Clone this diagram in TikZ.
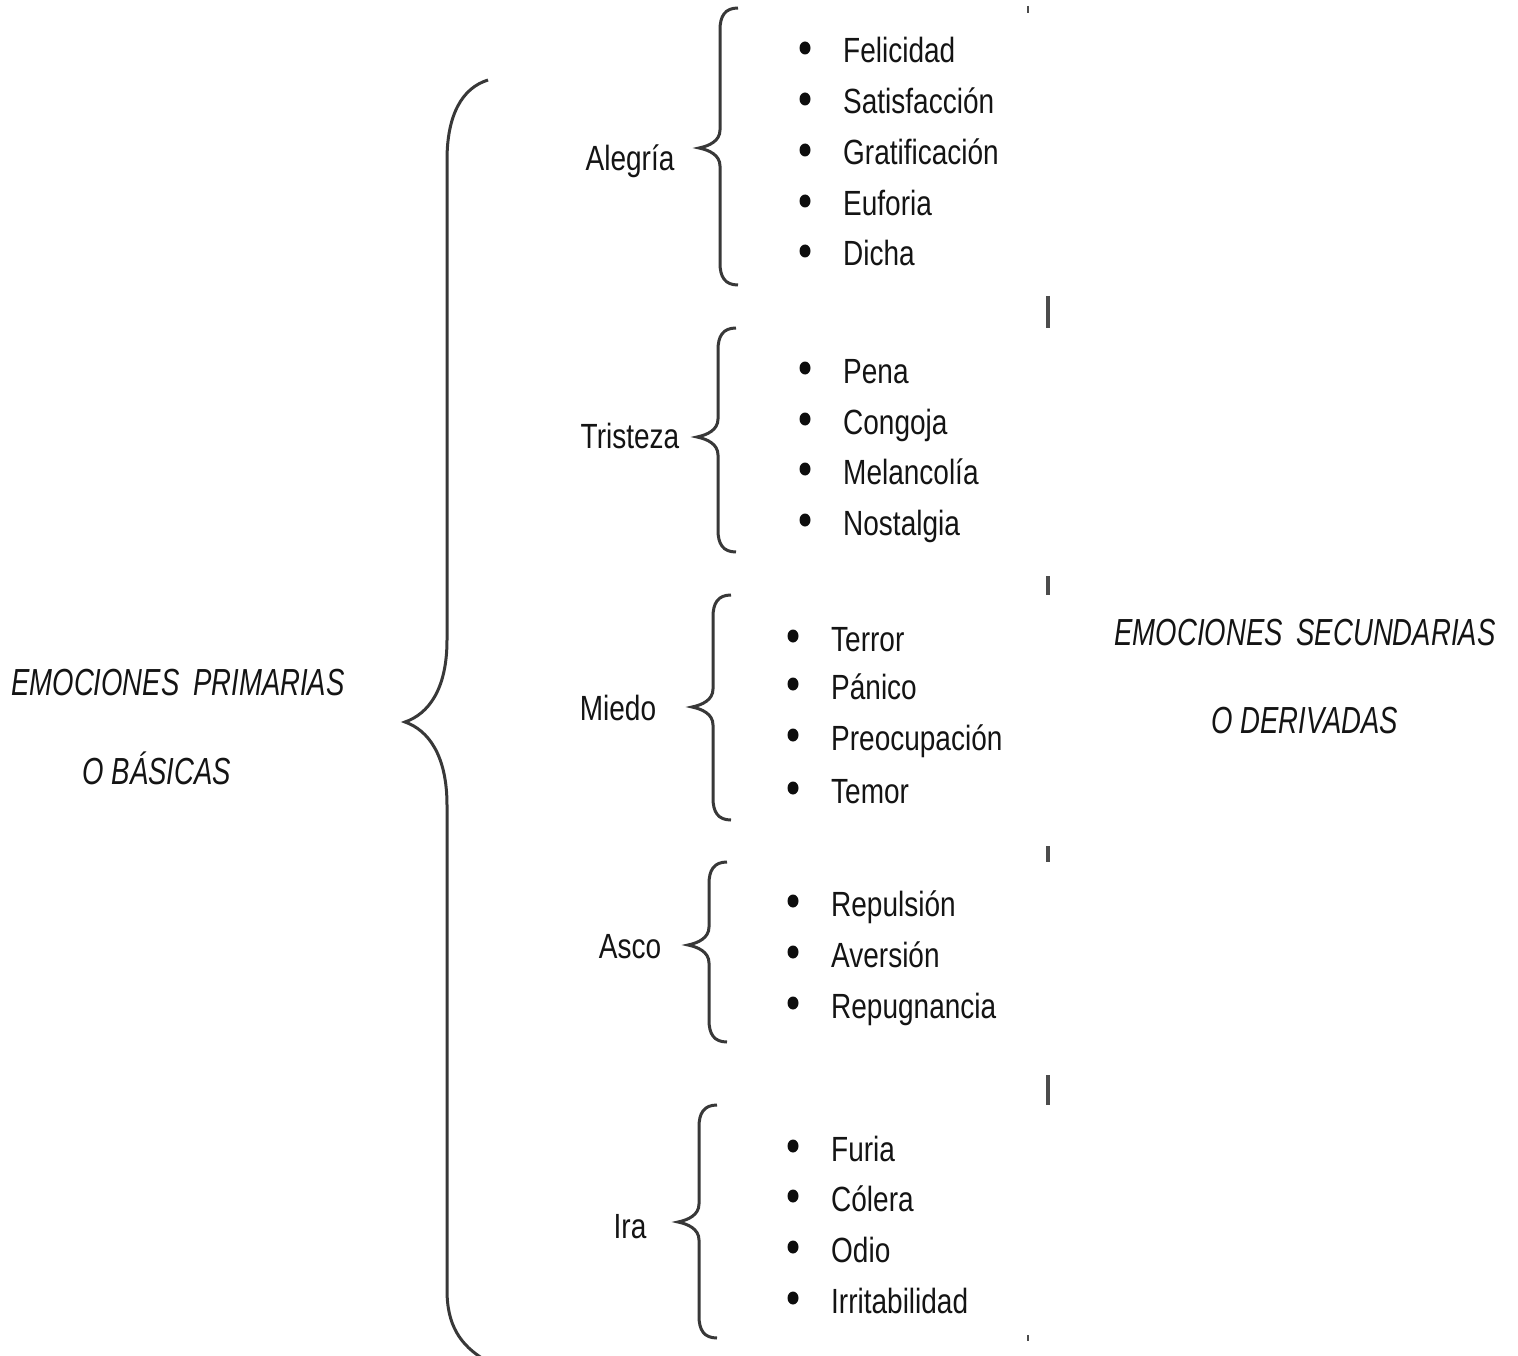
\documentclass[tikz,border=0pt]{standalone}
\usepackage{fontspec}
\setmainfont{Liberation Sans}
\newcommand{\itemtxt}[1]{\scalebox{0.8}[1]{\fontsize{35}{40}\selectfont #1}}
\newcommand{\headtxt}[1]{\scalebox{0.73}[1]{\fontsize{37.7}{42}\selectfont\itshape #1}}
\newcommand{\mybrace}[4]{%
  \draw[braceline] ({#1+39},#3) .. controls ({#1+26},#3) and ({#1+21},{#3+8}) .. ({#1+21},{#3+22})
    -- ({#1+21},{#2-18}) .. controls ({#1+21},{#2-7}) and ({#1+10},{#2-2}) .. (#1,#2)
    .. controls ({#1+10},{#2+2}) and ({#1+21},{#2+7}) .. ({#1+21},{#2+18})
    -- ({#1+21},{#4-22}) .. controls ({#1+21},{#4-8}) and ({#1+26},#4) .. ({#1+39},#4);}
\begin{document}
\begin{tikzpicture}[x=1pt,y=-1pt,
  txt/.style={inner sep=0pt,anchor=base west,text=black!92},
  lbl/.style={inner sep=0pt,anchor=base,text=black!92},
  head/.style={inner sep=0pt,anchor=base,text=black!92},
  braceline/.style={line width=3pt,draw=black!78},
  dotmark/.style={fill=black!95},
  tick/.style={line width=3.5pt,draw=black!70}]
\useasboundingbox[fill=white] (0,0) rectangle (1518,1356);
\clip (0,0) rectangle (1518,1356);

% headings
\node[head] (h1) at (178,695) {\headtxt{EMOCIONES\hspace{0.5em}PRIMARIAS}};
\node[head] (h2) at (157,784) {\headtxt{O BÁSICAS}};
\node[head] (h3) at (1305,645) {\headtxt{EMOCIONES\hspace{0.5em}SECUNDARIAS}};
\node[head] (h4) at (1305,733) {\headtxt{O DERIVADAS}};

% big brace
\draw[braceline] (488,80) .. controls (462,88) and (447,115) .. (447,160)
  -- (447,640) .. controls (447,690) and (428,714) .. (405,722)
  .. controls (428,730) and (447,755) .. (447,805)
  -- (447,1290) .. controls (447,1325) and (460,1345) .. (485,1360);

% primary labels
\node[lbl] (alegria) at (630,171) {\itemtxt{Alegría}};
\node[lbl] (tristeza) at (630,448) {\itemtxt{Tristeza}};
\node[lbl] (miedo) at (618,720) {\itemtxt{Miedo}};
\node[lbl] (asco) at (630,958) {\itemtxt{Asco}};
\node[lbl] (ira) at (630,1238) {\itemtxt{Ira}};

% small braces
\mybrace{699}{148}{8}{285}
\mybrace{697}{437}{328}{552}
\mybrace{692}{707}{595}{820}
\mybrace{688}{945}{862}{1042}
\mybrace{678}{1222}{1105}{1338}

% items
\foreach \t/\y [count=\i] in {Felicidad/63,Satisfacción/114,Gratificación/165,Euforia/216,Dicha/266,
  Pena/383,Congoja/434,Melancolía/484,Nostalgia/535}{
  \fill[dotmark] (805,\y-15) ellipse (5.5pt and 6.5pt);
  \node[txt] (a\i) at (843,\y) {\itemtxt{\t}};
}
\foreach \t/\y [count=\i] in {Terror/651,Pánico/699,Preocupación/750,Temor/803,
  Repulsión/916,Aversión/967,Repugnancia/1018,
  Furia/1161,Cólera/1211,Odio/1262,Irritabilidad/1313}{
  \fill[dotmark] (793,\y-15) ellipse (5.5pt and 6.5pt);
  \node[txt] (b\i) at (831,\y) {\itemtxt{\t}};
}

% small tick marks
\draw[tick] (1048,296) -- (1048,328);
\draw[tick] (1048,576) -- (1048,595);
\draw[tick] (1048,846) -- (1048,862);
\draw[tick] (1048,1075) -- (1048,1105);
\draw[tick,line width=2.5pt] (1028,6) -- (1028,13);
\draw[tick,line width=2.5pt] (1028,1335) -- (1028,1341);
\end{tikzpicture}
\end{document}
